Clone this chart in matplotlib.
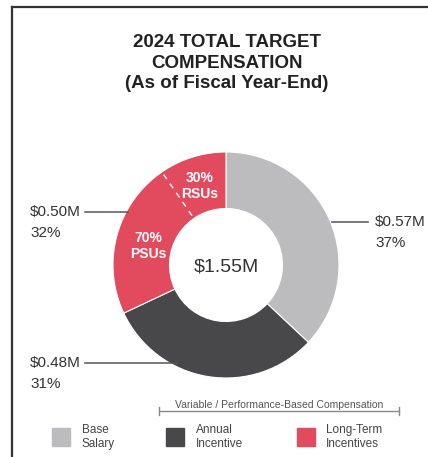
import numpy as np
import matplotlib.pyplot as plt
from matplotlib.lines import Line2D
from matplotlib.patches import Rectangle

plt.rcParams['font.family'] = ['Liberation Sans', 'DejaVu Sans']

# data
categories = ['Base\nSalary', 'Annual\nIncentive', 'Long-Term\nIncentives']
amounts = ['$0.57M', '$0.48M', '$0.50M']
shares = [37, 31, 32]
colors = ['#bcbcbf', '#48484a', '#e24a5e']
lti_split = [70, 30]          # PSUs, RSUs
lti_names = ['PSUs', 'RSUs']
total = '$1.55M'

W, H = 428, 457
fig = plt.figure(figsize=(W / 100, H / 100), dpi=100)

# frame lines (top and left)
fig.add_artist(Line2D([12 / W, 12 / W], [0, 1 - 7 / H], color='#333333', lw=1.6))
fig.add_artist(Line2D([12 / W, 1], [1 - 7 / H, 1 - 7 / H], color='#333333', lw=1.6))

fig.text(227 / W, 1 - 63 / H, '2024 TOTAL TARGET\nCOMPENSATION\n(As of Fiscal Year-End)',
         ha='center', va='center', fontsize=13.5, fontweight='bold',
         color='#222222', linespacing=1.25)

# donut
R = 113
cx, cy = 226, 265
ax = fig.add_axes([(cx - R) / W, 1 - (cy + R) / H, 2 * R / W, 2 * R / H])
wedges, _ = ax.pie(shares, colors=colors, startangle=90, counterclock=False, radius=1,
                   wedgeprops=dict(width=0.5, edgecolor='white', linewidth=0.8))
ax.set_xlim(-1, 1)
ax.set_ylim(-1, 1)
ax.set_aspect('equal')
ax.axis('off')

# dashed divider between PSUs and RSUs inside the LTI wedge
lti_span = 360 * shares[2] / sum(shares)
div_ang = np.deg2rad(90 + lti_span * lti_split[1] / 100)
ax.plot([0.53 * np.cos(div_ang), 0.98 * np.cos(div_ang)],
        [0.53 * np.sin(div_ang), 0.98 * np.sin(div_ang)],
        color='white', lw=1.0, ls=(0, (4, 4)))

# inner LTI labels
ax.text(-0.23, 0.70, f'{lti_split[1]}%\n{lti_names[1]}', ha='center', va='center',
        color='white', fontsize=10, fontweight='bold', linespacing=1.15)
ax.text(-0.69, 0.17, f'{lti_split[0]}%\n{lti_names[0]}', ha='center', va='center',
        color='white', fontsize=10, fontweight='bold', linespacing=1.15)

ax.text(0, -0.02, total, ha='center', va='center', fontsize=14, color='#333333')

# outside labels with leader lines (pixel positions)
ext = [(375, 222, 332, 368), (30, 363, 177, 85), (30, 212, 128, 85)]
for (tx, ty, x0, x1), amt, sh in zip(ext, amounts, shares):
    fig.add_artist(Line2D([x0 / W, x1 / W], [1 - ty / H, 1 - ty / H], color='#555555', lw=1.1))
    fig.text(tx / W, 1 - ty / H, amt, ha='left', va='center', fontsize=11, color='#333333')
    fig.text(tx / W, 1 - (ty + 21) / H, f'{sh}%', ha='left', va='center', fontsize=11, color='#333333')

# bracket over variable compensation
by = 411
fig.add_artist(Line2D([159 / W, 399 / W], [1 - by / H, 1 - by / H], color='#888888', lw=1))
for bx in (159, 399):
    fig.add_artist(Line2D([bx / W, bx / W], [1 - (by - 4) / H, 1 - (by + 4) / H], color='#888888', lw=1))
fig.text(279 / W, 1 - 405 / H, 'Variable / Performance-Based Compensation',
         ha='center', va='center', fontsize=7.5, color='#555555')

# legend
leg = [(52, 82), (166, 196), (297, 326)]
for (sx, lx), lab, c in zip(leg, categories, colors):
    fig.add_artist(Rectangle((sx / W, 1 - 446 / H), 18 / W, 18 / H, color=c,
                             transform=fig.transFigure))
    fig.text(lx / W, 1 - 437 / H, lab, ha='left', va='center', fontsize=8.5,
             color='#444444', linespacing=1.3)

fig.savefig('out.png', dpi=100)
